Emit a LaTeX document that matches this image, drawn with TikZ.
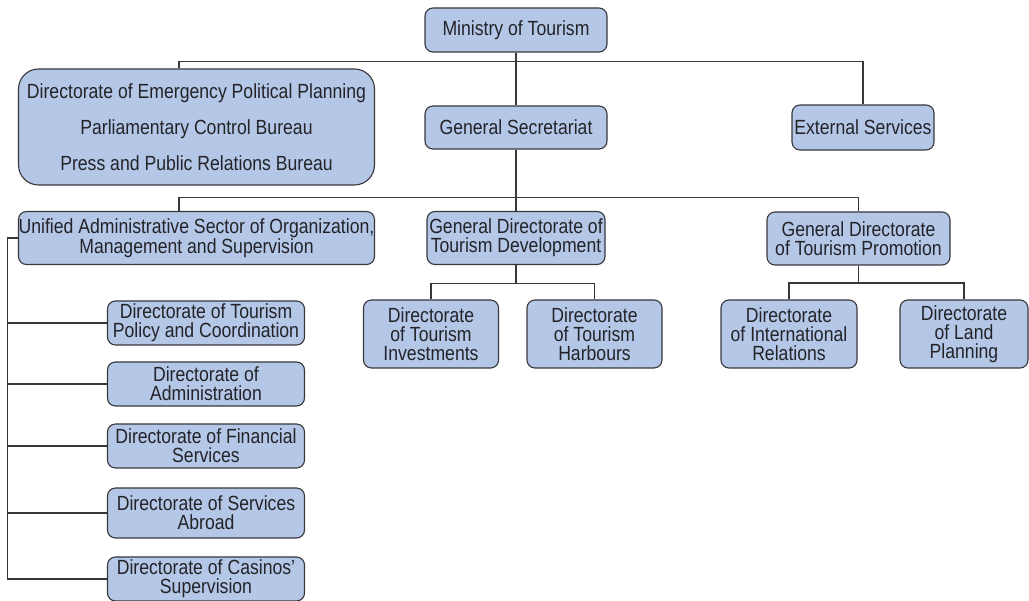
\documentclass[tikz,border=0pt]{standalone}
\usepackage{fontspec}
\setmainfont{Liberation Sans}[FakeStretch=0.86]
\usepackage{xcolor}
\usepackage{tikz}
\usetikzlibrary{positioning, calc}
\definecolor{unitfill}{RGB}{180,199,231}
\definecolor{unitdraw}{RGB}{55,55,60}
\definecolor{unittext}{RGB}{35,35,40}
\tikzset{
  unit/.style={rectangle, draw=unitdraw, fill=unitfill, text=unittext,
    align=center, inner sep=0pt, rounded corners=8pt, line width=1.1pt,
    font=\fontsize{20.5}{19}\selectfont},
  bigunit/.style={unit, rounded corners=20pt},
  link/.style={line width=1.3pt, color=unitdraw}
}

\begin{document}
\begin{tikzpicture}[x=1pt, y=-1pt]
  \useasboundingbox (0,0) rectangle (1029,601);

  % Top level
  \node[unit, minimum width=182, minimum height=44] (ministry) at (516,30) {Ministry of Tourism};
  \node[bigunit, minimum width=356, minimum height=116] (bureaux) at (196.5,127)
    {Directorate of Emergency Political Planning\\[16pt]
     Parliamentary Control Bureau\\[16pt]
     Press and Public Relations Bureau};
  \node[unit, minimum width=182, minimum height=43] (secretariat) at (516,127.5) {General Secretariat};
  \node[unit, minimum width=142, minimum height=45] (external) at (863,127.5) {External Services};

  % Sectors and general directorates
  \node[unit, minimum width=356, minimum height=53] (unified) at (196.5,238)
    {Unified Administrative Sector of Organization,\\Management and Supervision};
  \node[unit, minimum width=178, minimum height=53] (gdtd) at (516,238)
    {General Directorate of\\Tourism Development};
  \node[unit, minimum width=183, minimum height=53] (gdtp) at (858.5,238.5)
    {General Directorate\\of Tourism Promotion};

  % Directorates
  \node[unit, minimum width=135, minimum height=68] (invest) at (431,334)
    {Directorate\\of Tourism\\Investments};
  \node[unit, minimum width=135, minimum height=68] (harbour) at (594.5,334)
    {Directorate\\of Tourism\\Harbours};
  \node[unit, minimum width=136, minimum height=68] (intl) at (789,334)
    {Directorate\\of International\\Relations};
  \node[unit, minimum width=128, minimum height=68] (land) at (964,334)
    {Directorate\\of Land\\Planning};

  % Left column
  \node[unit, minimum width=197, minimum height=44] (policy) at (206,323)
    {Directorate of Tourism\\Policy and Coordination};
  \node[unit, minimum width=197, minimum height=44] (admin) at (206,384)
    {Directorate of\\Administration};
  \node[unit, minimum width=197, minimum height=44] (finance) at (206,446)
    {Directorate of Financial\\Services};
  \node[unit, minimum width=197, minimum height=50] (abroad) at (206,513)
    {Directorate of Services\\Abroad};
  \node[unit, minimum width=197, minimum height=44] (casinos) at (206,579)
    {Directorate of Casinos'\\Supervision};

  % Connectors
  \draw[link] (ministry.south) -- (secretariat.north);
  \draw[link] ([xshift=-17.5pt]bureaux.north) -- ++(0,-7) -| (external.north);
  \draw[link] (secretariat.south) -- (gdtd.north);
  \draw[link] ([xshift=-17.5pt]unified.north) -- ++(0,-13.5) -| (gdtp.north);

  \draw[link] (gdtd.south) -- ++(0,18.5) coordinate (devbar);
  \draw[link] (invest.north) |- (devbar) -| (harbour.north);
  \draw[link] (gdtp.south) -- ++(0,17.5) coordinate (probar);
  \draw[link] (intl.north) |- (probar) -| (land.north);

  \draw[link] (unified.west) -- ++(-10.5,0) coordinate (spine) |- (casinos.west);
  \foreach \d in {policy, admin, finance, abroad}
    \draw[link] (spine) |- (\d.west);
\end{tikzpicture}
\end{document}
